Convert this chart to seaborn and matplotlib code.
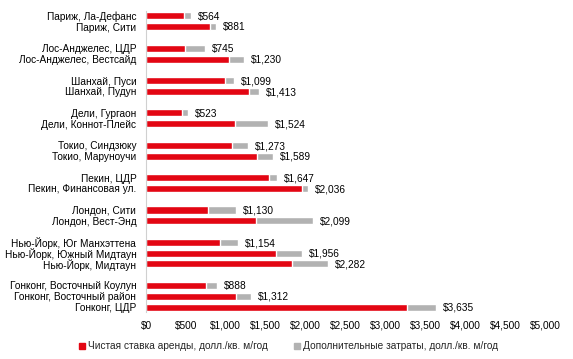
import matplotlib.pyplot as plt
import pandas as pd
import seaborn as sns
from matplotlib.lines import Line2D

# Data (USD per sq. m per year)
groups = [
    ['Париж, Ла-Дефанс', 'Париж, Сити'],
    ['Лос-Анджелес, ЦДР', 'Лос-Анджелес, Вестсайд'],
    ['Шанхай, Пуси', 'Шанхай, Пудун'],
    ['Дели, Гургаон', 'Дели, Коннот-Плейс'],
    ['Токио, Синдзюку', 'Токио, Маруноучи'],
    ['Пекин, ЦДР', 'Пекин, Финансовая ул.'],
    ['Лондон, Сити', 'Лондон, Вест-Энд'],
    ['Нью-Йорк, Юг Манхэттена', 'Нью-Йорк, Южный Мидтаун', 'Нью-Йорк, Мидтаун'],
    ['Гонконг, Восточный Коулун', 'Гонконг, Восточный район', 'Гонконг, ЦДР'],
]
net_rent = [476, 802, 489, 1040, 994, 1291, 451, 1115, 1074, 1391,
            1541, 1955, 777, 1378, 930, 1633, 1834, 752, 1128, 3271]
total_cost = [564, 881, 745, 1230, 1099, 1413, 523, 1524, 1273, 1589,
              1647, 2036, 1130, 2099, 1154, 1956, 2282, 888, 1312, 3635]
legend_labels = ['Чистая ставка аренды, долл./кв. м/год',
                 'Дополнительные затраты, долл./кв. м/год']

red = '#E30613'
gray = '#B2B2B2'
fs = 7.25

labels = [name for g in groups for name in g]
df = pd.DataFrame({'name': labels, 'net': net_rent, 'total': total_cost})

# category order with blank spacer rows between cities
order = []
for i, g in enumerate(groups):
    if i > 0:
        order.append(' ' * i)
    order.extend(g)

sns.set_style('white')
plt.rcParams['font.family'] = ['Liberation Sans', 'DejaVu Sans']

fig = plt.figure(figsize=(5.73, 3.59), dpi=100)
ax = fig.add_axes([0.2548, 0.1298, 0.9511 - 0.2548, 0.9705 - 0.1298])

sns.barplot(data=df, x='total', y='name', order=order, orient='h',
            color=gray, saturation=1, width=0.65, ax=ax)
sns.barplot(data=df, x='net', y='name', order=order, orient='h',
            color=red, saturation=1, width=0.65, ax=ax)

# value labels at the end of the total bars
for name, tot in zip(labels, total_cost):
    ax.annotate(f'${tot:,}', xy=(tot, order.index(name)), xytext=(5, -0.5),
                textcoords='offset points', va='center', ha='left',
                fontsize=fs, color='black')

ax.set_xlim(0, 5000)
ax.set_xticks(range(0, 5001, 500))
ax.set_xticklabels([f'${v:,}' for v in range(0, 5001, 500)])
ax.set_xlabel('')
ax.set_ylabel('')
ax.tick_params(axis='both', length=0, labelsize=fs, colors='black')
ax.tick_params(axis='x', pad=6)
ax.tick_params(axis='y', pad=7)

for side in ['top', 'right', 'bottom']:
    ax.spines[side].set_visible(False)
ax.spines['left'].set_color('#D0D0D0')
ax.spines['left'].set_linewidth(0.8)

handles = [Line2D([], [], marker='s', linestyle='none', color=red, markersize=4),
           Line2D([], [], marker='s', linestyle='none', color=gray, markersize=4)]
fig.legend(handles, legend_labels, loc='center', bbox_to_anchor=(0.503, 0.036),
           ncol=2, frameon=False, fontsize=fs, handlelength=0.6,
           handletextpad=0.3, columnspacing=2.6)

fig.savefig('out.png', dpi=100)
